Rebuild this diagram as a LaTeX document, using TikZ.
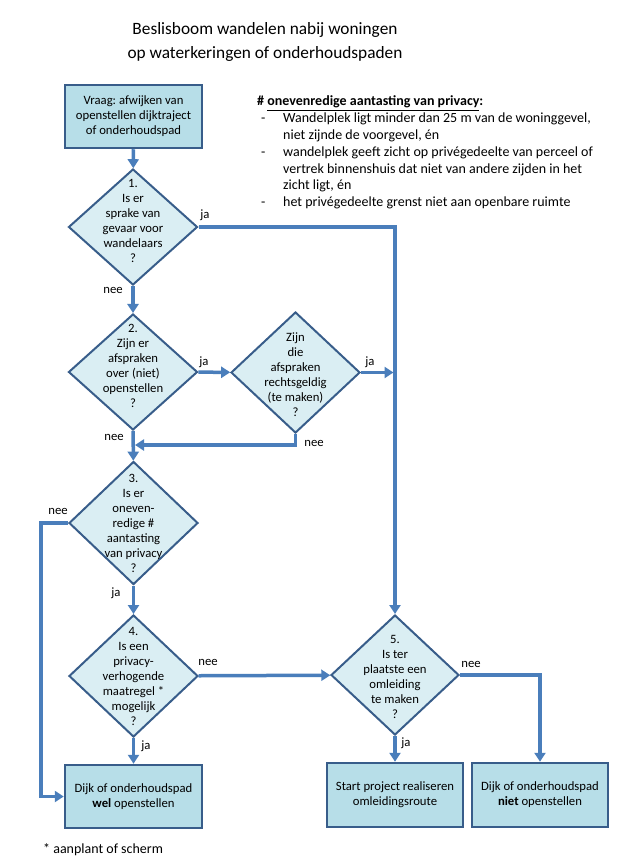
\documentclass[tikz,border=0pt]{standalone}
\usepackage{fontspec}
\setmainfont{Carlito}
\frenchspacing
\usetikzlibrary{shapes.geometric,arrows.meta}

\definecolor{flowblue}{HTML}{4A7EBB}
\definecolor{edgeblue}{HTML}{385D8A}
\definecolor{boxfill}{HTML}{B7DEE8}
\definecolor{decfill}{HTML}{DAEEF3}

\tikzset{
  txt/.style={font=\fontsize{12.7}{15}\selectfont, align=center},
  box/.style={draw=edgeblue, line width=2.5pt, fill=boxfill, txt,
    minimum width=137pt, minimum height=63pt, inner sep=0pt},
  dec/.style={diamond, draw=edgeblue, line width=2pt, fill=decfill,
    minimum width=129pt, minimum height=121pt, inner sep=0pt},
  dectxt/.style={txt, inner sep=0pt},
  lbl/.style={font=\fontsize{12.7}{15}\selectfont, inner sep=0pt},
  flow/.style={draw=flowblue, line width=3.5pt,
    -{Triangle[width=11pt,length=9pt]}}
}

\begin{document}
\begin{tikzpicture}[x=1pt,y=-1pt]
  \useasboundingbox (0,0) rectangle (616,864);

  \node[font=\fontsize{17.3}{24}\selectfont, align=center] (title) at (265,42)
    {Beslisboom wandelen nabij woningen\\op waterkeringen of onderhoudspaden};

  % privacy definition
  \node[anchor=north west, inner sep=0pt, font=\fontsize{14}{16.8}\selectfont] (def) at (257,94)
    {\begin{tabular}{@{}p{26pt}@{}l@{}}
      \multicolumn{2}{@{}l@{}}{\textbf{\# \underline{onevenredige aantasting van privacy}:}}\\
      \hspace{4pt}- & Wandelplek ligt minder dan 25 m van de woninggevel,\\
      & niet zijnde de voorgevel, én\\
      \hspace{4pt}- & wandelplek geeft zicht op privégedeelte van perceel of\\
      & vertrek binnenshuis dat niet van andere zijden in het\\
      & zicht ligt, én\\
      \hspace{4pt}- & het privégedeelte grenst niet aan openbare ruimte
    \end{tabular}};

  \node[box] (start) at (133.5,116.5) {Vraag: afwijken van\\openstellen dijktraject\\of onderhoudspad};

  \node[dec, minimum height=116pt, label={[dectxt,yshift=6pt]center:{1.\\Is er\\sprake van\\gevaar voor\\wandelaars\\?}}] (d1) at (133,227) {};
  \node[dec, minimum height=116pt, label={[dectxt,yshift=6pt]center:{2.\\Zijn er\\afspraken\\over (niet)\\openstellen\\?}}] (d2) at (133,372) {};
  \node[dec, label={[dectxt,yshift=-2pt]center:{Zijn\\die\\afspraken\\rechtsgeldig\\(te maken)\\?}}] (d2b) at (295.5,372.5) {};
  \node[dec, minimum height=123pt, label={[dectxt]center:{3.\\Is er\\oneven-\\redige \#\\aantasting\\van privacy\\?}}] (d3) at (133.5,523) {};
  \node[dec, minimum height=122pt, label={[dectxt]center:{4.\\Is een\\privacy-\\verhogende\\maatregel *\\mogelijk\\?}}] (d4) at (133.5,676) {};
  \node[dec, minimum width=128pt, minimum height=120pt, label={[dectxt,yshift=-2pt]center:{5.\\Is ter\\plaatste een\\omleiding\\te maken\\?}}] (d5) at (395,675) {};

  \node[box] (wel) at (133.5,796.5) {Dijk of onderhoudspad\\\textbf{wel} openstellen};
  \node[box, minimum width=136pt, minimum height=64pt] (proj) at (395,795) {Start project realiseren\\omleidingsroute};
  \node[box, minimum width=136pt, minimum height=64pt] (niet) at (540,795) {Dijk of onderhoudspad\\\textbf{niet} openstellen};

  \node[font=\fontsize{14}{16.8}\selectfont, inner sep=0pt, anchor=west] (note) at (43,850) {* aanplant of scherm};

  \coordinate (m23) at (133,445);

  \draw[flow] (start) -- (d1);
  \draw[flow] (d1.east) -- (d1.east -| d5.north) -- (d5.north);
  \draw[flow] (d1) -- (d2);
  \draw[flow] (d2) -- (d2b);
  \draw[flow] (d2b.east) -- ([xshift=-1.5pt]d2b.east -| d5.north);
  \draw[flow] (d2b.south) |- ([xshift=2pt]m23);
  \draw[flow] (d2) -- (d3);
  \draw[flow] (d3.west) -- ++(-27,0) |- (wel.west);
  \draw[flow] (d3) -- (d4);
  \draw[flow] (d4) -- (d5);
  \draw[flow] (d4) -- (wel);
  \draw[flow] (d5) -- (proj);
  \draw[flow] (d5.east) -| (niet.north);

  \node[lbl] (ja1) at (205,215) {ja};
  \node[lbl] (nee1) at (113,290) {nee};
  \node[lbl] (ja2) at (204,362) {ja};
  \node[lbl] (ja2b) at (370,362) {ja};
  \node[lbl] (nee2) at (114,437) {nee};
  \node[lbl] (nee2b) at (314,443) {nee};
  \node[lbl] (nee3) at (58,511) {nee};
  \node[lbl] (ja3) at (116,593) {ja};
  \node[lbl] (nee4) at (208,662) {nee};
  \node[lbl] (ja4) at (146,746) {ja};
  \node[lbl] (nee5) at (471,664) {nee};
  \node[lbl] (ja5) at (406,743) {ja};
\end{tikzpicture}
\end{document}
